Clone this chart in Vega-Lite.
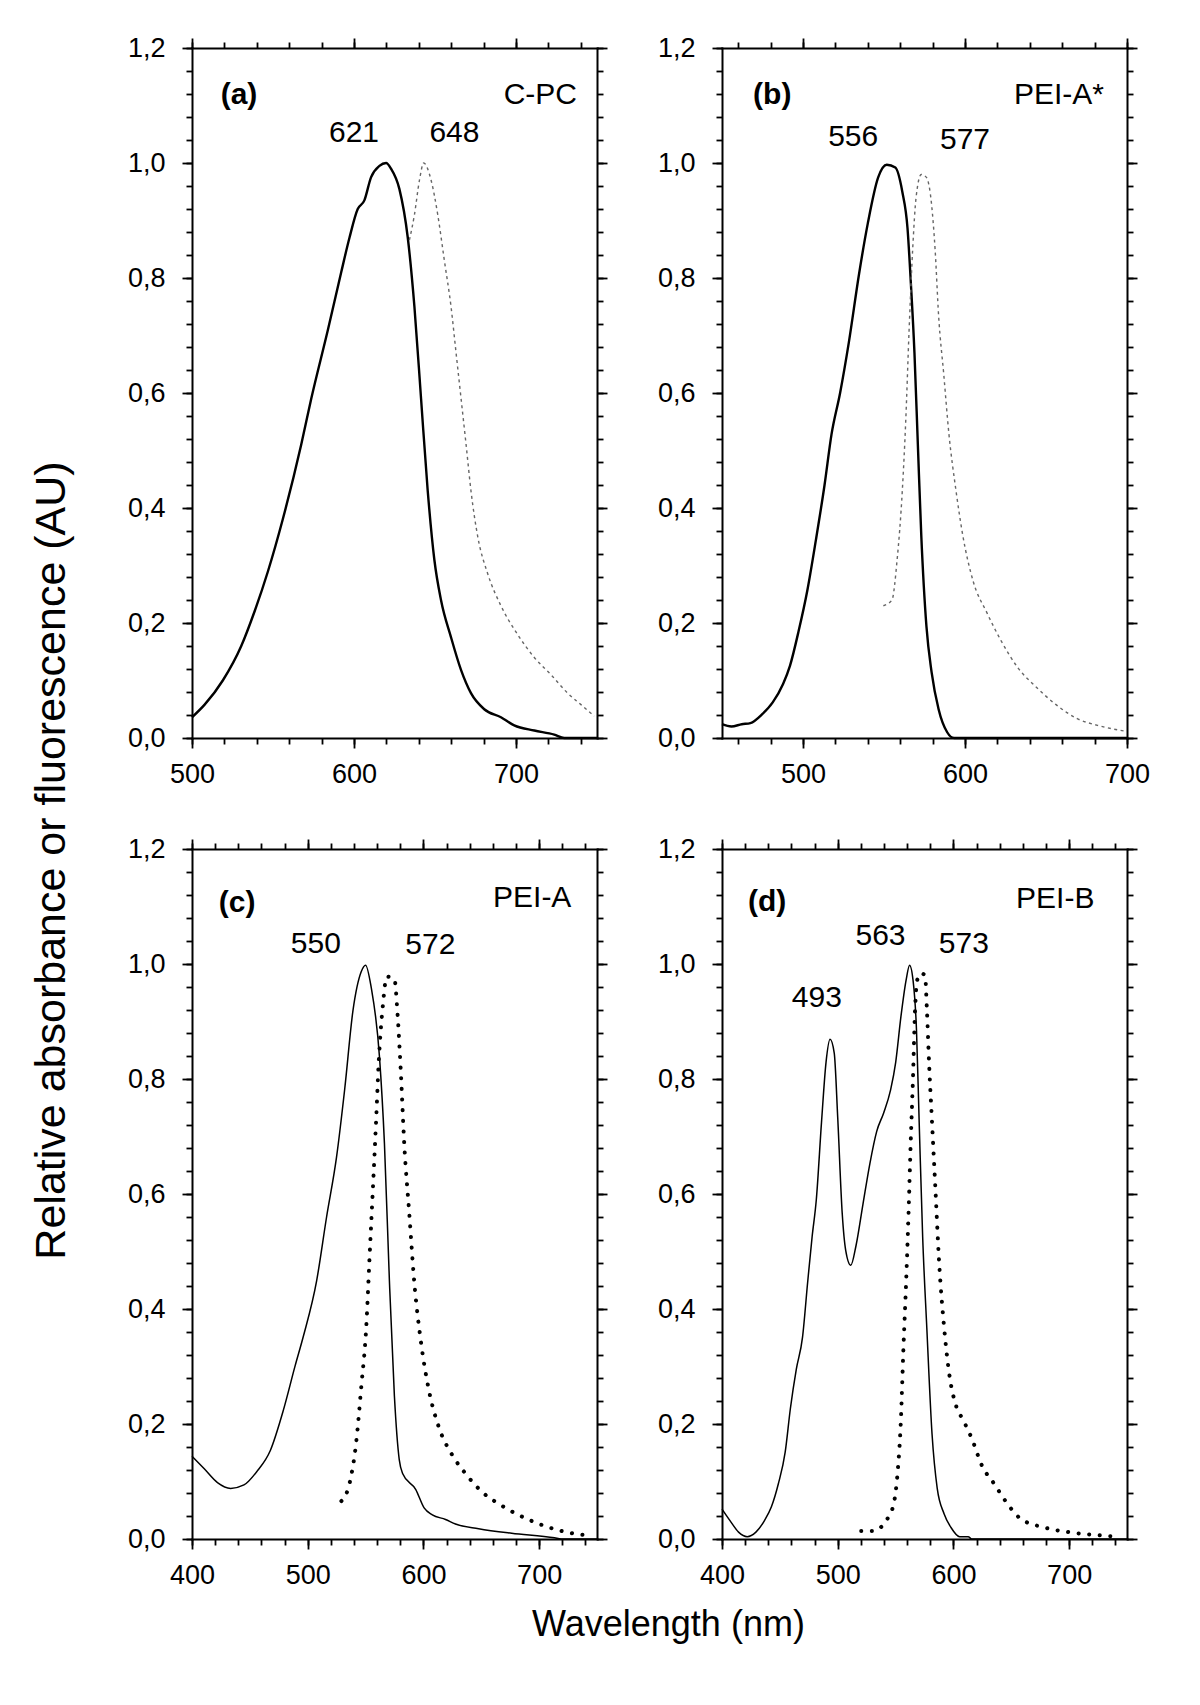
{
  "$schema": "https://vega.github.io/schema/vega-lite/v6.json",
  "padding": {"left": 31, "top": 34, "right": 5, "bottom": 5},
  "background": "white",
  "title": {"text": "Relative absorbance or fluorescence (AU)", "orient": "left", "anchor": "middle", "fontSize": 43, "font": "Liberation Sans", "fontWeight": "normal", "color": "black", "offset": 53, "dx": -22},
  "datasets": {
    "spectra": [
      {"p":"a","s":"abs","wl":500,"v":0.036},{"p":"a","s":"abs","wl":507.8,"v":0.058},{"p":"a","s":"abs","wl":519,"v":0.10},{"p":"a","s":"abs","wl":530.4,"v":0.16},{"p":"a","s":"abs","wl":538.6,"v":0.22},{"p":"a","s":"abs","wl":546.9,"v":0.29},{"p":"a","s":"abs","wl":556,"v":0.38},{"p":"a","s":"abs","wl":567.4,"v":0.51},{"p":"a","s":"abs","wl":573.6,"v":0.59},{"p":"a","s":"abs","wl":583.9,"v":0.71},{"p":"a","s":"abs","wl":592.1,"v":0.81},{"p":"a","s":"abs","wl":597.2,"v":0.87},{"p":"a","s":"abs","wl":602.3,"v":0.92},{"p":"a","s":"abs","wl":606.4,"v":0.935},{"p":"a","s":"abs","wl":610.5,"v":0.975},{"p":"a","s":"abs","wl":615.7,"v":0.995},{"p":"a","s":"abs","wl":619.8,"v":1.0},{"p":"a","s":"abs","wl":622.9,"v":0.99},{"p":"a","s":"abs","wl":628,"v":0.955},{"p":"a","s":"abs","wl":633.2,"v":0.87},{"p":"a","s":"abs","wl":637.3,"v":0.75},{"p":"a","s":"abs","wl":641.4,"v":0.59},{"p":"a","s":"abs","wl":645.5,"v":0.43},{"p":"a","s":"abs","wl":649.6,"v":0.31},{"p":"a","s":"abs","wl":653.7,"v":0.24},{"p":"a","s":"abs","wl":659.9,"v":0.175},{"p":"a","s":"abs","wl":666.1,"v":0.118},{"p":"a","s":"abs","wl":672.2,"v":0.078},{"p":"a","s":"abs","wl":680.4,"v":0.05},{"p":"a","s":"abs","wl":690.7,"v":0.036},{"p":"a","s":"abs","wl":698.9,"v":0.022},{"p":"a","s":"abs","wl":711.3,"v":0.013},{"p":"a","s":"abs","wl":723.6,"v":0.006},{"p":"a","s":"abs","wl":729.8,"v":0.0},{"p":"a","s":"abs","wl":750,"v":0.0},
      {"p":"a","s":"fl","wl":634.2,"v":0.866},{"p":"a","s":"fl","wl":637.3,"v":0.91},{"p":"a","s":"fl","wl":640.4,"v":0.97},{"p":"a","s":"fl","wl":643,"v":1.0},{"p":"a","s":"fl","wl":647.6,"v":0.97},{"p":"a","s":"fl","wl":651.7,"v":0.91},{"p":"a","s":"fl","wl":655.8,"v":0.83},{"p":"a","s":"fl","wl":659.9,"v":0.75},{"p":"a","s":"fl","wl":663,"v":0.67},{"p":"a","s":"fl","wl":666.1,"v":0.59},{"p":"a","s":"fl","wl":669.2,"v":0.51},{"p":"a","s":"fl","wl":672.2,"v":0.43},{"p":"a","s":"fl","wl":676.4,"v":0.35},{"p":"a","s":"fl","wl":682.5,"v":0.286},{"p":"a","s":"fl","wl":690.7,"v":0.23},{"p":"a","s":"fl","wl":701,"v":0.18},{"p":"a","s":"fl","wl":711.3,"v":0.14},{"p":"a","s":"fl","wl":721.6,"v":0.11},{"p":"a","s":"fl","wl":731.9,"v":0.078},{"p":"a","s":"fl","wl":740.1,"v":0.058},{"p":"a","s":"fl","wl":748.3,"v":0.038},
      {"p":"b","s":"abs","wl":450,"v":0.024},{"p":"b","s":"abs","wl":455.8,"v":0.02},{"p":"b","s":"abs","wl":462.2,"v":0.024},{"p":"b","s":"abs","wl":467.5,"v":0.026},{"p":"b","s":"abs","wl":475,"v":0.042},{"p":"b","s":"abs","wl":481.3,"v":0.062},{"p":"b","s":"abs","wl":487.7,"v":0.094},{"p":"b","s":"abs","wl":492,"v":0.126},{"p":"b","s":"abs","wl":497.3,"v":0.186},{"p":"b","s":"abs","wl":502.7,"v":0.257},{"p":"b","s":"abs","wl":508,"v":0.345},{"p":"b","s":"abs","wl":513.3,"v":0.44},{"p":"b","s":"abs","wl":517.6,"v":0.528},{"p":"b","s":"abs","wl":522.9,"v":0.6},{"p":"b","s":"abs","wl":528.3,"v":0.688},{"p":"b","s":"abs","wl":534.6,"v":0.807},{"p":"b","s":"abs","wl":540,"v":0.895},{"p":"b","s":"abs","wl":546.4,"v":0.975},{"p":"b","s":"abs","wl":551.7,"v":0.997},{"p":"b","s":"abs","wl":557,"v":0.992},{"p":"b","s":"abs","wl":561.3,"v":0.95},{"p":"b","s":"abs","wl":564.5,"v":0.887},{"p":"b","s":"abs","wl":566.6,"v":0.79},{"p":"b","s":"abs","wl":568.8,"v":0.67},{"p":"b","s":"abs","wl":570.9,"v":0.51},{"p":"b","s":"abs","wl":573,"v":0.353},{"p":"b","s":"abs","wl":576.2,"v":0.194},{"p":"b","s":"abs","wl":579.4,"v":0.114},{"p":"b","s":"abs","wl":583.7,"v":0.05},{"p":"b","s":"abs","wl":589,"v":0.01},{"p":"b","s":"abs","wl":593.3,"v":0.0},{"p":"b","s":"abs","wl":700,"v":0.0},
      {"p":"b","s":"fl","wl":549.6,"v":0.23},{"p":"b","s":"fl","wl":554.9,"v":0.24},{"p":"b","s":"fl","wl":558.1,"v":0.31},{"p":"b","s":"fl","wl":561.3,"v":0.43},{"p":"b","s":"fl","wl":563.4,"v":0.55},{"p":"b","s":"fl","wl":565.5,"v":0.71},{"p":"b","s":"fl","wl":567.7,"v":0.85},{"p":"b","s":"fl","wl":569.8,"v":0.94},{"p":"b","s":"fl","wl":573,"v":0.98},{"p":"b","s":"fl","wl":576.2,"v":0.975},{"p":"b","s":"fl","wl":579.4,"v":0.927},{"p":"b","s":"fl","wl":581.6,"v":0.847},{"p":"b","s":"fl","wl":583.7,"v":0.735},{"p":"b","s":"fl","wl":586.9,"v":0.632},{"p":"b","s":"fl","wl":590.1,"v":0.528},{"p":"b","s":"fl","wl":594.3,"v":0.433},{"p":"b","s":"fl","wl":598.6,"v":0.353},{"p":"b","s":"fl","wl":605,"v":0.273},{"p":"b","s":"fl","wl":613.5,"v":0.218},{"p":"b","s":"fl","wl":622.1,"v":0.17},{"p":"b","s":"fl","wl":632.7,"v":0.122},{"p":"b","s":"fl","wl":643.4,"v":0.09},{"p":"b","s":"fl","wl":656.2,"v":0.058},{"p":"b","s":"fl","wl":669,"v":0.034},{"p":"b","s":"fl","wl":681.8,"v":0.022},{"p":"b","s":"fl","wl":694.6,"v":0.014},{"p":"b","s":"fl","wl":699,"v":0.012},
      {"p":"c","s":"abs","wl":400,"v":0.144},{"p":"c","s":"abs","wl":410.6,"v":0.122},{"p":"c","s":"abs","wl":422,"v":0.098},{"p":"c","s":"abs","wl":433.4,"v":0.088},{"p":"c","s":"abs","wl":444.9,"v":0.094},{"p":"c","s":"abs","wl":456.3,"v":0.118},{"p":"c","s":"abs","wl":467.7,"v":0.154},{"p":"c","s":"abs","wl":479.1,"v":0.225},{"p":"c","s":"abs","wl":489.1,"v":0.301},{"p":"c","s":"abs","wl":496.3,"v":0.353},{"p":"c","s":"abs","wl":507.7,"v":0.449},{"p":"c","s":"abs","wl":516.3,"v":0.56},{"p":"c","s":"abs","wl":524.9,"v":0.664},{"p":"c","s":"abs","wl":532,"v":0.783},{"p":"c","s":"abs","wl":539.1,"v":0.919},{"p":"c","s":"abs","wl":546.3,"v":0.987},{"p":"c","s":"abs","wl":550,"v":0.998},{"p":"c","s":"abs","wl":554.9,"v":0.959},{"p":"c","s":"abs","wl":562,"v":0.839},{"p":"c","s":"abs","wl":566.3,"v":0.688},{"p":"c","s":"abs","wl":570.6,"v":0.449},{"p":"c","s":"abs","wl":574.9,"v":0.249},{"p":"c","s":"abs","wl":579.1,"v":0.138},{"p":"c","s":"abs","wl":582,"v":0.114},{"p":"c","s":"abs","wl":593.4,"v":0.086},{"p":"c","s":"abs","wl":600.6,"v":0.054},{"p":"c","s":"abs","wl":607.7,"v":0.042},{"p":"c","s":"abs","wl":619.1,"v":0.034},{"p":"c","s":"abs","wl":627.7,"v":0.026},{"p":"c","s":"abs","wl":647.7,"v":0.018},{"p":"c","s":"abs","wl":676.3,"v":0.01},{"p":"c","s":"abs","wl":713.4,"v":0.002},{"p":"c","s":"abs","wl":719,"v":0.0},{"p":"c","s":"abs","wl":750,"v":0.0},
      {"p":"c","s":"fl","wl":529.1,"v":0.066},{"p":"c","s":"fl","wl":536.3,"v":0.098},{"p":"c","s":"fl","wl":542,"v":0.17},{"p":"c","s":"fl","wl":546.3,"v":0.265},{"p":"c","s":"fl","wl":550.6,"v":0.369},{"p":"c","s":"fl","wl":553.4,"v":0.488},{"p":"c","s":"fl","wl":556.3,"v":0.608},{"p":"c","s":"fl","wl":559.1,"v":0.727},{"p":"c","s":"fl","wl":561.4,"v":0.831},{"p":"c","s":"fl","wl":564.9,"v":0.927},{"p":"c","s":"fl","wl":568.3,"v":0.978},{"p":"c","s":"fl","wl":574.9,"v":0.974},{"p":"c","s":"fl","wl":577.7,"v":0.911},{"p":"c","s":"fl","wl":580.6,"v":0.807},{"p":"c","s":"fl","wl":583.4,"v":0.688},{"p":"c","s":"fl","wl":587.7,"v":0.568},{"p":"c","s":"fl","wl":592,"v":0.449},{"p":"c","s":"fl","wl":597.7,"v":0.345},{"p":"c","s":"fl","wl":604.9,"v":0.257},{"p":"c","s":"fl","wl":613.4,"v":0.194},{"p":"c","s":"fl","wl":624.9,"v":0.146},{"p":"c","s":"fl","wl":636.3,"v":0.114},{"p":"c","s":"fl","wl":650.6,"v":0.082},{"p":"c","s":"fl","wl":667.7,"v":0.058},{"p":"c","s":"fl","wl":690.6,"v":0.034},{"p":"c","s":"fl","wl":719.1,"v":0.014},{"p":"c","s":"fl","wl":742,"v":0.006},
      {"p":"d","s":"abs","wl":400,"v":0.052},{"p":"d","s":"abs","wl":406.9,"v":0.032},{"p":"d","s":"abs","wl":414.3,"v":0.012},{"p":"d","s":"abs","wl":421.8,"v":0.004},{"p":"d","s":"abs","wl":429.3,"v":0.012},{"p":"d","s":"abs","wl":436.7,"v":0.032},{"p":"d","s":"abs","wl":442.7,"v":0.056},{"p":"d","s":"abs","wl":448.7,"v":0.096},{"p":"d","s":"abs","wl":454.6,"v":0.151},{"p":"d","s":"abs","wl":459.1,"v":0.227},{"p":"d","s":"abs","wl":464.2,"v":0.295},{"p":"d","s":"abs","wl":469.6,"v":0.351},{"p":"d","s":"abs","wl":474,"v":0.446},{"p":"d","s":"abs","wl":477.9,"v":0.526},{"p":"d","s":"abs","wl":481.5,"v":0.59},{"p":"d","s":"abs","wl":486,"v":0.725},{"p":"d","s":"abs","wl":489.9,"v":0.829},{"p":"d","s":"abs","wl":493.4,"v":0.869},{"p":"d","s":"abs","wl":497,"v":0.845},{"p":"d","s":"abs","wl":500,"v":0.733},{"p":"d","s":"abs","wl":503.9,"v":0.566},{"p":"d","s":"abs","wl":506.9,"v":0.502},{"p":"d","s":"abs","wl":511.3,"v":0.476},{"p":"d","s":"abs","wl":515.8,"v":0.51},{"p":"d","s":"abs","wl":521.8,"v":0.582},{"p":"d","s":"abs","wl":527.8,"v":0.653},{"p":"d","s":"abs","wl":533.7,"v":0.709},{"p":"d","s":"abs","wl":539.7,"v":0.741},{"p":"d","s":"abs","wl":545.7,"v":0.781},{"p":"d","s":"abs","wl":550.1,"v":0.829},{"p":"d","s":"abs","wl":554.6,"v":0.908},{"p":"d","s":"abs","wl":559.1,"v":0.972},{"p":"d","s":"abs","wl":562.1,"v":0.998},{"p":"d","s":"abs","wl":565.1,"v":0.972},{"p":"d","s":"abs","wl":568.1,"v":0.884},{"p":"d","s":"abs","wl":570.4,"v":0.725},{"p":"d","s":"abs","wl":573.4,"v":0.526},{"p":"d","s":"abs","wl":577,"v":0.367},{"p":"d","s":"abs","wl":581.5,"v":0.183},{"p":"d","s":"abs","wl":586,"v":0.088},{"p":"d","s":"abs","wl":591.9,"v":0.044},{"p":"d","s":"abs","wl":597.9,"v":0.02},{"p":"d","s":"abs","wl":605.4,"v":0.004},{"p":"d","s":"abs","wl":612.8,"v":0.004},{"p":"d","s":"abs","wl":615.8,"v":0.0},{"p":"d","s":"abs","wl":750,"v":0.0},
      {"p":"d","s":"fl","wl":520.3,"v":0.014},{"p":"d","s":"fl","wl":530.1,"v":0.014},{"p":"d","s":"fl","wl":539.1,"v":0.024},{"p":"d","s":"fl","wl":544.2,"v":0.04},{"p":"d","s":"fl","wl":548.7,"v":0.064},{"p":"d","s":"fl","wl":551.6,"v":0.112},{"p":"d","s":"fl","wl":554.6,"v":0.207},{"p":"d","s":"fl","wl":556.7,"v":0.327},{"p":"d","s":"fl","wl":559.1,"v":0.446},{"p":"d","s":"fl","wl":561.2,"v":0.566},{"p":"d","s":"fl","wl":563,"v":0.685},{"p":"d","s":"fl","wl":565.1,"v":0.805},{"p":"d","s":"fl","wl":566.6,"v":0.908},{"p":"d","s":"fl","wl":568.7,"v":0.972},{"p":"d","s":"fl","wl":571.9,"v":0.984},{"p":"d","s":"fl","wl":575.5,"v":0.98},{"p":"d","s":"fl","wl":577,"v":0.924},{"p":"d","s":"fl","wl":579.1,"v":0.821},{"p":"d","s":"fl","wl":581.5,"v":0.725},{"p":"d","s":"fl","wl":584.5,"v":0.606},{"p":"d","s":"fl","wl":587.5,"v":0.486},{"p":"d","s":"fl","wl":592,"v":0.367},{"p":"d","s":"fl","wl":596.4,"v":0.287},{"p":"d","s":"fl","wl":602.4,"v":0.231},{"p":"d","s":"fl","wl":608.4,"v":0.207},{"p":"d","s":"fl","wl":615.8,"v":0.175},{"p":"d","s":"fl","wl":624.8,"v":0.127},{"p":"d","s":"fl","wl":635.2,"v":0.096},{"p":"d","s":"fl","wl":645.7,"v":0.064},{"p":"d","s":"fl","wl":657.6,"v":0.036},{"p":"d","s":"fl","wl":678.5,"v":0.02},{"p":"d","s":"fl","wl":699.4,"v":0.012},{"p":"d","s":"fl","wl":729.3,"v":0.006},{"p":"d","s":"fl","wl":741.2,"v":0.004}
    ],
    "notes": [
      {"p":"a","kind":"letter","label":"(a)","wl":529,"v":1.118},
      {"p":"a","kind":"name","label":"C-PC","wl":715,"v":1.118},
      {"p":"a","kind":"peak","label":"621","wl":600,"v":1.053},
      {"p":"a","kind":"peak","label":"648","wl":662,"v":1.053},
      {"p":"b","kind":"letter","label":"(b)","wl":481,"v":1.118},
      {"p":"b","kind":"name","label":"PEI-A*","wl":658,"v":1.118},
      {"p":"b","kind":"peak","label":"556","wl":531,"v":1.045},
      {"p":"b","kind":"peak","label":"577","wl":600,"v":1.04},
      {"p":"c","kind":"letter","label":"(c)","wl":439,"v":1.106},
      {"p":"c","kind":"name","label":"PEI-A","wl":694,"v":1.114},
      {"p":"c","kind":"peak","label":"550","wl":507,"v":1.034},
      {"p":"c","kind":"peak","label":"572","wl":606,"v":1.033},
      {"p":"d","kind":"letter","label":"(d)","wl":439,"v":1.108},
      {"p":"d","kind":"name","label":"PEI-B","wl":688,"v":1.113},
      {"p":"d","kind":"peak","label":"563","wl":537,"v":1.048},
      {"p":"d","kind":"peak","label":"573","wl":609,"v":1.034},
      {"p":"d","kind":"peak","label":"493","wl":482,"v":0.941}
    ]
  },
  "vconcat": [
    {
      "title": {"text": "Wavelength (nm)", "orient": "bottom", "anchor": "middle", "fontSize": 36, "font": "Liberation Sans", "fontWeight": "normal", "color": "black", "offset": 20, "dx": 30},
      "columns": 2,
      "bounds": "flush",
      "spacing": {"row": 111, "column": 125},
      "concat": [
        {
          "width": 405, "height": 690,
          "layer": [
            {"data": {"name": "spectra"}, "transform": [{"filter": "datum.p === 'a' && datum.s === 'abs'"}],
             "mark": {"type": "line", "color": "black", "strokeWidth": 2.4, "interpolate": "monotone"},
             "encoding": {
               "x": {"field": "wl", "type": "quantitative", "scale": {"domain": [500, 750], "nice": false, "zero": false}, "axis": {"orient": "bottom", "values": [500, 600, 700], "tickSize": 10, "title": null}},
               "y": {"field": "v", "type": "quantitative", "scale": {"domain": [0, 1.2], "nice": false, "zero": false}, "axis": {"orient": "left", "values": [0, 0.2, 0.4, 0.6, 0.8, 1, 1.2], "format": ".1f", "labelExpr": "replace(datum.label, '.', ',')", "tickSize": 10, "title": null}}
             }},
            {"data": {"name": "spectra"}, "transform": [{"filter": "datum.p === 'a' && datum.s === 'fl'"}],
             "mark": {"type": "line", "color": "#666666", "strokeWidth": 1.4, "strokeDash": [3, 3.5], "interpolate": "monotone"},
             "encoding": {
               "x": {"field": "wl", "type": "quantitative", "scale": {"domain": [500, 750], "nice": false, "zero": false}, "axis": {"orient": "bottom", "values": [500,520,540,560,580,600,620,640,660,680,700,720,740], "labels": false, "domain": false, "tickSize": 6, "title": null}},
               "y": {"field": "v", "type": "quantitative", "scale": {"domain": [0, 1.2], "nice": false, "zero": false}, "axis": {"orient": "left", "values": [0,0.04,0.08,0.12,0.16,0.2,0.24,0.28,0.32,0.36,0.4,0.44,0.48,0.52,0.56,0.6,0.64,0.68,0.72,0.76,0.8,0.84,0.88,0.92,0.96,1,1.04,1.08,1.12,1.16,1.2], "labels": false, "domain": false, "tickSize": 6, "title": null}}
             }},
            {"data": {"name": "notes"}, "transform": [{"filter": "datum.p === 'a' && datum.kind !== 'letter'"}],
             "mark": {"type": "text", "fontSize": 30, "font": "Liberation Sans", "color": "black"},
             "encoding": {
               "text": {"field": "label"},
               "x": {"field": "wl", "type": "quantitative", "scale": {"domain": [500, 750], "nice": false, "zero": false}, "axis": {"orient": "top", "values": [500, 600, 700], "labels": false, "tickSize": 10, "title": null}},
               "y": {"field": "v", "type": "quantitative", "scale": {"domain": [0, 1.2], "nice": false, "zero": false}, "axis": {"orient": "right", "values": [0, 0.2, 0.4, 0.6, 0.8, 1, 1.2], "labels": false, "tickSize": 10, "title": null}}
             }},
            {"data": {"name": "notes"}, "transform": [{"filter": "datum.p === 'a' && datum.kind === 'letter'"}],
             "mark": {"type": "text", "fontSize": 30, "font": "Liberation Sans", "fontWeight": "bold", "color": "black"},
             "encoding": {
               "text": {"field": "label"},
               "x": {"field": "wl", "type": "quantitative", "scale": {"domain": [500, 750], "nice": false, "zero": false}, "axis": {"orient": "top", "values": [500,520,540,560,580,600,620,640,660,680,700,720,740], "labels": false, "domain": false, "tickSize": 6, "title": null}},
               "y": {"field": "v", "type": "quantitative", "scale": {"domain": [0, 1.2], "nice": false, "zero": false}, "axis": {"orient": "right", "values": [0,0.04,0.08,0.12,0.16,0.2,0.24,0.28,0.32,0.36,0.4,0.44,0.48,0.52,0.56,0.6,0.64,0.68,0.72,0.76,0.8,0.84,0.88,0.92,0.96,1,1.04,1.08,1.12,1.16,1.2], "labels": false, "domain": false, "tickSize": 6, "title": null}}
             }}
          ],
          "resolve": {"axis": {"x": "independent", "y": "independent"}}
        },
        {
          "width": 405, "height": 690,
          "layer": [
            {"data": {"name": "spectra"}, "transform": [{"filter": "datum.p === 'b' && datum.s === 'abs'"}],
             "mark": {"type": "line", "color": "black", "strokeWidth": 2.4, "interpolate": "monotone"},
             "encoding": {
               "x": {"field": "wl", "type": "quantitative", "scale": {"domain": [450, 700], "nice": false, "zero": false}, "axis": {"orient": "bottom", "values": [500, 600, 700], "tickSize": 10, "title": null}},
               "y": {"field": "v", "type": "quantitative", "scale": {"domain": [0, 1.2], "nice": false, "zero": false}, "axis": {"orient": "left", "values": [0, 0.2, 0.4, 0.6, 0.8, 1, 1.2], "format": ".1f", "labelExpr": "replace(datum.label, '.', ',')", "tickSize": 10, "title": null}}
             }},
            {"data": {"name": "spectra"}, "transform": [{"filter": "datum.p === 'b' && datum.s === 'fl'"}],
             "mark": {"type": "line", "color": "#666666", "strokeWidth": 1.4, "strokeDash": [3, 3.5], "interpolate": "monotone"},
             "encoding": {
               "x": {"field": "wl", "type": "quantitative", "scale": {"domain": [450, 700], "nice": false, "zero": false}, "axis": {"orient": "bottom", "values": [460,480,500,520,540,560,580,600,620,640,660,680,700], "labels": false, "domain": false, "tickSize": 6, "title": null}},
               "y": {"field": "v", "type": "quantitative", "scale": {"domain": [0, 1.2], "nice": false, "zero": false}, "axis": {"orient": "left", "values": [0,0.04,0.08,0.12,0.16,0.2,0.24,0.28,0.32,0.36,0.4,0.44,0.48,0.52,0.56,0.6,0.64,0.68,0.72,0.76,0.8,0.84,0.88,0.92,0.96,1,1.04,1.08,1.12,1.16,1.2], "labels": false, "domain": false, "tickSize": 6, "title": null}}
             }},
            {"data": {"name": "notes"}, "transform": [{"filter": "datum.p === 'b' && datum.kind !== 'letter'"}],
             "mark": {"type": "text", "fontSize": 30, "font": "Liberation Sans", "color": "black"},
             "encoding": {
               "text": {"field": "label"},
               "x": {"field": "wl", "type": "quantitative", "scale": {"domain": [450, 700], "nice": false, "zero": false}, "axis": {"orient": "top", "values": [500, 600, 700], "labels": false, "tickSize": 10, "title": null}},
               "y": {"field": "v", "type": "quantitative", "scale": {"domain": [0, 1.2], "nice": false, "zero": false}, "axis": {"orient": "right", "values": [0, 0.2, 0.4, 0.6, 0.8, 1, 1.2], "labels": false, "tickSize": 10, "title": null}}
             }},
            {"data": {"name": "notes"}, "transform": [{"filter": "datum.p === 'b' && datum.kind === 'letter'"}],
             "mark": {"type": "text", "fontSize": 30, "font": "Liberation Sans", "fontWeight": "bold", "color": "black"},
             "encoding": {
               "text": {"field": "label"},
               "x": {"field": "wl", "type": "quantitative", "scale": {"domain": [450, 700], "nice": false, "zero": false}, "axis": {"orient": "top", "values": [460,480,500,520,540,560,580,600,620,640,660,680,700], "labels": false, "domain": false, "tickSize": 6, "title": null}},
               "y": {"field": "v", "type": "quantitative", "scale": {"domain": [0, 1.2], "nice": false, "zero": false}, "axis": {"orient": "right", "values": [0,0.04,0.08,0.12,0.16,0.2,0.24,0.28,0.32,0.36,0.4,0.44,0.48,0.52,0.56,0.6,0.64,0.68,0.72,0.76,0.8,0.84,0.88,0.92,0.96,1,1.04,1.08,1.12,1.16,1.2], "labels": false, "domain": false, "tickSize": 6, "title": null}}
             }}
          ],
          "resolve": {"axis": {"x": "independent", "y": "independent"}}
        },
        {
          "width": 405, "height": 690,
          "layer": [
            {"data": {"name": "spectra"}, "transform": [{"filter": "datum.p === 'c' && datum.s === 'abs'"}],
             "mark": {"type": "line", "color": "black", "strokeWidth": 1.5, "interpolate": "monotone"},
             "encoding": {
               "x": {"field": "wl", "type": "quantitative", "scale": {"domain": [400, 750], "nice": false, "zero": false}, "axis": {"orient": "bottom", "values": [400, 500, 600, 700], "tickSize": 10, "title": null}},
               "y": {"field": "v", "type": "quantitative", "scale": {"domain": [0, 1.2], "nice": false, "zero": false}, "axis": {"orient": "left", "values": [0, 0.2, 0.4, 0.6, 0.8, 1, 1.2], "format": ".1f", "labelExpr": "replace(datum.label, '.', ',')", "tickSize": 10, "title": null}}
             }},
            {"data": {"name": "spectra"}, "transform": [{"filter": "datum.p === 'c' && datum.s === 'fl'"}],
             "mark": {"type": "line", "color": "black", "strokeWidth": 4, "strokeDash": [0.1, 10.5], "strokeCap": "round", "interpolate": "monotone"},
             "encoding": {
               "x": {"field": "wl", "type": "quantitative", "scale": {"domain": [400, 750], "nice": false, "zero": false}, "axis": {"orient": "bottom", "values": [400,420,440,460,480,500,520,540,560,580,600,620,640,660,680,700,720,740], "labels": false, "domain": false, "tickSize": 6, "title": null}},
               "y": {"field": "v", "type": "quantitative", "scale": {"domain": [0, 1.2], "nice": false, "zero": false}, "axis": {"orient": "left", "values": [0,0.04,0.08,0.12,0.16,0.2,0.24,0.28,0.32,0.36,0.4,0.44,0.48,0.52,0.56,0.6,0.64,0.68,0.72,0.76,0.8,0.84,0.88,0.92,0.96,1,1.04,1.08,1.12,1.16,1.2], "labels": false, "domain": false, "tickSize": 6, "title": null}}
             }},
            {"data": {"name": "notes"}, "transform": [{"filter": "datum.p === 'c' && datum.kind !== 'letter'"}],
             "mark": {"type": "text", "fontSize": 30, "font": "Liberation Sans", "color": "black"},
             "encoding": {
               "text": {"field": "label"},
               "x": {"field": "wl", "type": "quantitative", "scale": {"domain": [400, 750], "nice": false, "zero": false}, "axis": {"orient": "top", "values": [400, 500, 600, 700], "labels": false, "tickSize": 10, "title": null}},
               "y": {"field": "v", "type": "quantitative", "scale": {"domain": [0, 1.2], "nice": false, "zero": false}, "axis": {"orient": "right", "values": [0, 0.2, 0.4, 0.6, 0.8, 1, 1.2], "labels": false, "tickSize": 10, "title": null}}
             }},
            {"data": {"name": "notes"}, "transform": [{"filter": "datum.p === 'c' && datum.kind === 'letter'"}],
             "mark": {"type": "text", "fontSize": 30, "font": "Liberation Sans", "fontWeight": "bold", "color": "black"},
             "encoding": {
               "text": {"field": "label"},
               "x": {"field": "wl", "type": "quantitative", "scale": {"domain": [400, 750], "nice": false, "zero": false}, "axis": {"orient": "top", "values": [400,420,440,460,480,500,520,540,560,580,600,620,640,660,680,700,720,740], "labels": false, "domain": false, "tickSize": 6, "title": null}},
               "y": {"field": "v", "type": "quantitative", "scale": {"domain": [0, 1.2], "nice": false, "zero": false}, "axis": {"orient": "right", "values": [0,0.04,0.08,0.12,0.16,0.2,0.24,0.28,0.32,0.36,0.4,0.44,0.48,0.52,0.56,0.6,0.64,0.68,0.72,0.76,0.8,0.84,0.88,0.92,0.96,1,1.04,1.08,1.12,1.16,1.2], "labels": false, "domain": false, "tickSize": 6, "title": null}}
             }}
          ],
          "resolve": {"axis": {"x": "independent", "y": "independent"}}
        },
        {
          "width": 405, "height": 690,
          "layer": [
            {"data": {"name": "spectra"}, "transform": [{"filter": "datum.p === 'd' && datum.s === 'abs'"}],
             "mark": {"type": "line", "color": "black", "strokeWidth": 1.5, "interpolate": "monotone"},
             "encoding": {
               "x": {"field": "wl", "type": "quantitative", "scale": {"domain": [400, 750], "nice": false, "zero": false}, "axis": {"orient": "bottom", "values": [400, 500, 600, 700], "tickSize": 10, "title": null}},
               "y": {"field": "v", "type": "quantitative", "scale": {"domain": [0, 1.2], "nice": false, "zero": false}, "axis": {"orient": "left", "values": [0, 0.2, 0.4, 0.6, 0.8, 1, 1.2], "format": ".1f", "labelExpr": "replace(datum.label, '.', ',')", "tickSize": 10, "title": null}}
             }},
            {"data": {"name": "spectra"}, "transform": [{"filter": "datum.p === 'd' && datum.s === 'fl'"}],
             "mark": {"type": "line", "color": "black", "strokeWidth": 4, "strokeDash": [0.1, 10.5], "strokeCap": "round", "interpolate": "monotone"},
             "encoding": {
               "x": {"field": "wl", "type": "quantitative", "scale": {"domain": [400, 750], "nice": false, "zero": false}, "axis": {"orient": "bottom", "values": [400,420,440,460,480,500,520,540,560,580,600,620,640,660,680,700,720,740], "labels": false, "domain": false, "tickSize": 6, "title": null}},
               "y": {"field": "v", "type": "quantitative", "scale": {"domain": [0, 1.2], "nice": false, "zero": false}, "axis": {"orient": "left", "values": [0,0.04,0.08,0.12,0.16,0.2,0.24,0.28,0.32,0.36,0.4,0.44,0.48,0.52,0.56,0.6,0.64,0.68,0.72,0.76,0.8,0.84,0.88,0.92,0.96,1,1.04,1.08,1.12,1.16,1.2], "labels": false, "domain": false, "tickSize": 6, "title": null}}
             }},
            {"data": {"name": "notes"}, "transform": [{"filter": "datum.p === 'd' && datum.kind !== 'letter'"}],
             "mark": {"type": "text", "fontSize": 30, "font": "Liberation Sans", "color": "black"},
             "encoding": {
               "text": {"field": "label"},
               "x": {"field": "wl", "type": "quantitative", "scale": {"domain": [400, 750], "nice": false, "zero": false}, "axis": {"orient": "top", "values": [400, 500, 600, 700], "labels": false, "tickSize": 10, "title": null}},
               "y": {"field": "v", "type": "quantitative", "scale": {"domain": [0, 1.2], "nice": false, "zero": false}, "axis": {"orient": "right", "values": [0, 0.2, 0.4, 0.6, 0.8, 1, 1.2], "labels": false, "tickSize": 10, "title": null}}
             }},
            {"data": {"name": "notes"}, "transform": [{"filter": "datum.p === 'd' && datum.kind === 'letter'"}],
             "mark": {"type": "text", "fontSize": 30, "font": "Liberation Sans", "fontWeight": "bold", "color": "black"},
             "encoding": {
               "text": {"field": "label"},
               "x": {"field": "wl", "type": "quantitative", "scale": {"domain": [400, 750], "nice": false, "zero": false}, "axis": {"orient": "top", "values": [400,420,440,460,480,500,520,540,560,580,600,620,640,660,680,700,720,740], "labels": false, "domain": false, "tickSize": 6, "title": null}},
               "y": {"field": "v", "type": "quantitative", "scale": {"domain": [0, 1.2], "nice": false, "zero": false}, "axis": {"orient": "right", "values": [0,0.04,0.08,0.12,0.16,0.2,0.24,0.28,0.32,0.36,0.4,0.44,0.48,0.52,0.56,0.6,0.64,0.68,0.72,0.76,0.8,0.84,0.88,0.92,0.96,1,1.04,1.08,1.12,1.16,1.2], "labels": false, "domain": false, "tickSize": 6, "title": null}}
             }}
          ],
          "resolve": {"axis": {"x": "independent", "y": "independent"}}
        }
      ]
    }
  ],
  "config": {
    "view": {"stroke": null},
    "axis": {"domainColor": "black", "domainWidth": 2, "domainCap": "square", "tickColor": "black", "tickWidth": 1.8, "labelFont": "Liberation Sans", "labelFontSize": 27, "labelColor": "black", "grid": false, "labelFlush": false, "labelOverlap": false},
    "axisX": {"labelPadding": 13},
    "axisY": {"labelPadding": 17}
  }
}
